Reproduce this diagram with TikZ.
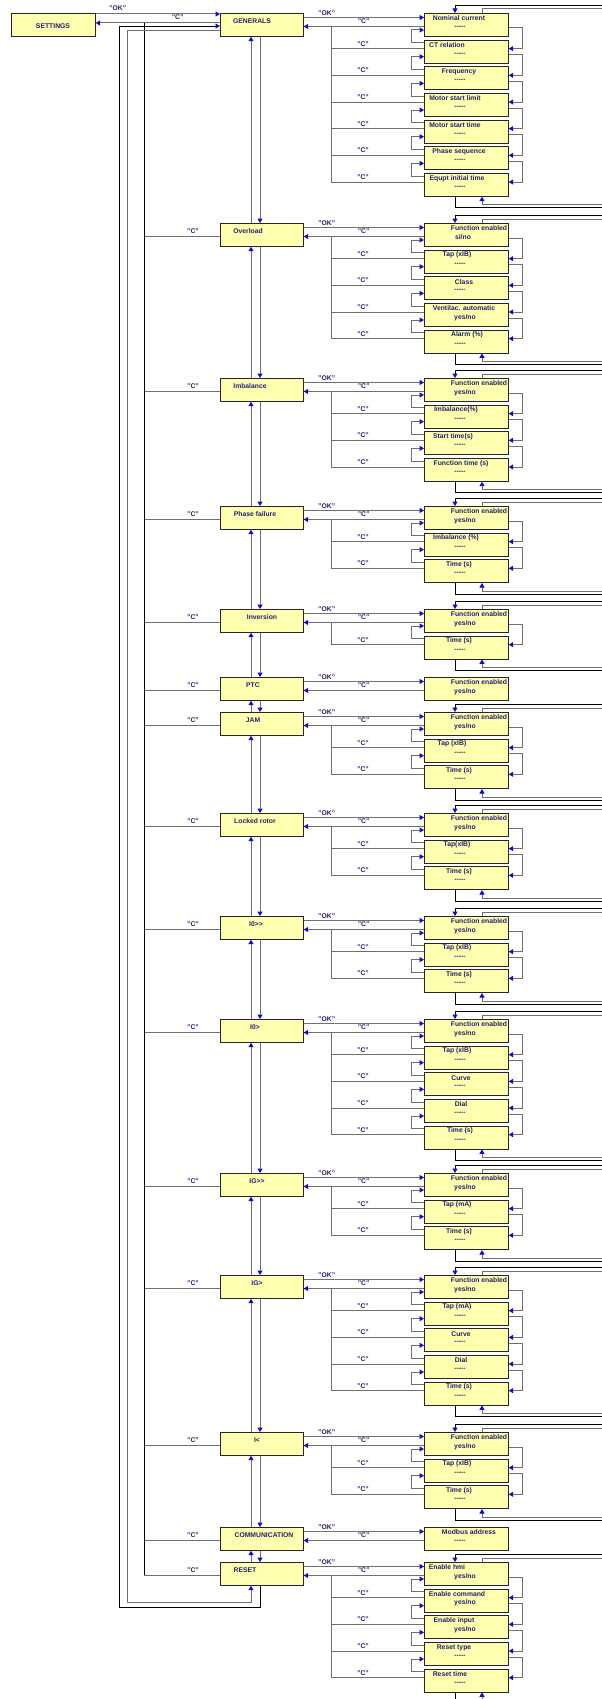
\documentclass[tikz,border=0pt]{standalone}
\usepackage{fontspec}
\setmainfont{Liberation Sans}
\usetikzlibrary{arrows.meta,calc}

\definecolor{boxfill}{RGB}{255,255,176}
\definecolor{navy}{RGB}{36,32,112}
\definecolor{wiregrey}{RGB}{112,112,112}
\definecolor{tipblue}{RGB}{10,10,225}

\protected\def\yn{yes/no}
\protected\def\sn{si/no}
\protected\def\dashes{-\kern0pt-\kern0pt-\kern0pt-\kern0pt-}
\protected\def\gtgt{>\kern0pt>}

\tikzset{
  menubox/.style={draw=black!85, line width=0.7pt, fill=boxfill, minimum width=83pt,
    minimum height=23pt, inner sep=0pt, anchor=north west},
  subbox/.style={menubox, minimum width=84pt},
  boxtxt/.style={font=\fontsize{6.8}{8}\selectfont\bfseries, text=navy, inner sep=0pt},
  lbl/.style={boxtxt},
  gl/.style={draw=wiregrey, line width=1pt},
  bl/.style={draw=black, line width=0.8pt},
  arr/.style={-{Triangle[length=4.5pt,width=5pt,color=tipblue]}},
}

% a menu entry of the main column
\newcommand\menu[4]{%
  \node[menubox] (m#1) at (220,#2) {};
  \node[boxtxt] at ($(m#1.north west)+(#4,8.5)$) {#3};
}

% the parameter boxes of one menu: title/title offset/value/value offset
\newcommand\subitems[3]{%
  \foreach \ti/\dx/\se/\sx [count=\k] in {#3} {
    \node[subbox] (s#1-\k) at (424,{#2+(\k-1)*26.67}) {};
    \node[boxtxt] at ($(s#1-\k.north west)+(\dx,5.5)$) {\ti};
    \node[boxtxt] at ($(s#1-\k.north west)+(\sx,14.5)$) {\se};
  }
}

% OK / C links of one menu and the up/down navigation between its boxes
\newcommand\wires[2]{%
  \draw[gl,arr] ([yshift=-4.5pt]m#1.north east) -- ([yshift=-4.5pt]s#1-1.north west);
  \node[lbl] at ($(m#1.north east)+(23,0)$) {"OK"};
  \draw[gl,arr] ([yshift=-13.5pt]s#1-1.north west) -- ([yshift=-13.5pt]m#1.north east);
  \node[lbl] at ($(m#1.north east)+(60,8.5)$) {"C"};
  \ifnum#2>1
    \pgfmathtruncatemacro\nlast{#2-1}
    \foreach \i [evaluate=\i as \j using int(\i+1)] in {1,...,\nlast} {
      \draw[gl] ([yshift=-9pt]s#1-\j.north west) -| ([xshift=28pt,yshift=-13.5pt]m#1.north east);
      \node[lbl] at ($(s#1-\j.north west)+(-61,4)$) {"C"};
      \draw[gl,arr] ([yshift=-3pt]s#1-\j.north west) -- ++(-13,0) |- ([yshift=-17pt]s#1-\i.north west);
      \draw[gl,arr] ([yshift=-15pt]s#1-\i.north east) -- ++(14,0) |- ([yshift=-9pt]s#1-\j.north east);
    }
    \coordinate (et#1a) at ($(s#1-1.north west)+(178,-8)$);
    \coordinate (et#1b) at ($(s#1-1.north west)+(178,-4)$);
    \draw[bl,arr] (et#1a) -| ([xshift=31pt]s#1-1.north west);
    \draw[gl] ([xshift=58pt]s#1-1.north west) |- (et#1b);
    \coordinate (eb#1a) at ($(s#1-#2.south west)+(178,8)$);
    \coordinate (eb#1b) at ($(s#1-#2.south west)+(178,11)$);
    \draw[gl,arr] (eb#1a) -| ([xshift=58pt]s#1-#2.south west);
    \draw[bl] ([xshift=31pt]s#1-#2.south west) |- (eb#1b);
  \fi
}

% "C" from a menu entry back to the common return line
\newcommand\menuleft[1]{%
  \draw[gl] ([yshift=-13pt]m#1.north west) -- ++(-76,0);
  \node[lbl] at ($(m#1.north west)+(-27,8)$) {"C"};
}

\begin{document}
\begin{tikzpicture}[x=1pt,y=-1pt]
\useasboundingbox (0,0) rectangle (602,1699);
\fill[white] (0,0) rectangle (602,1699);

% settings
\node[menubox, minimum width=84pt] (set) at (11,13) {};
\node[boxtxt] at ($(set.north west)+(42,13)$) {SETTINGS};

% main column
\menu{1}{13}{GENERALS}{32}
\menu{2}{223}{Overload}{28}
\menu{3}{378}{Imbalance}{30}
\menu{4}{506}{Phase failure}{35}
\menu{5}{609}{Inversion}{42}
\menu{6}{677}{PTC}{33}
\menu{7}{712}{JAM}{33}
\menu{8}{813}{Locked rotor}{35}
\menu{9}{916}{I0\gtgt}{36}
\menu{10}{1019}{I0>}{35}
\menu{11}{1173}{IG\gtgt}{37}
\menu{12}{1275}{IG>}{37}
\menu{13}{1432}{I<}{37}
\menu{14}{1527}{COMMUNICATION}{44}
\menu{15}{1562}{RESET}{25}

% parameter boxes
\subitems{1}{13}{Nominal current/35/\dashes/36,CT relation/23/\dashes/36,Frequency/35/\dashes/36,Motor start limit/31/\dashes/36,Motor start time/31/\dashes/36,Phase sequence/35/\dashes/36,Equpt initial time/33/\dashes/36}
\subitems{2}{223}{Function enabled/55/\sn/39,Tap (xIB)/33/\dashes/36,Class/40/\dashes/36,Ventilac. automatic/40/\yn/41,Alarm (\%)/43/\dashes/36}
\subitems{3}{378}{Function enabled/55/\yn/41,Imbalance(\%)/32/\dashes/36,Start time(s)/29/\dashes/36,Function time (s)/37/\dashes/36}
\subitems{4}{506}{Function enabled/55/\yn/41,Imbalance (\%)/32/\dashes/36,Time (s)/35/\dashes/36}
\subitems{5}{609}{Function enabled/55/\yn/41,Time (s)/35/\dashes/36}
\subitems{6}{677}{Function enabled/55/\yn/41}
\subitems{7}{712}{Function enabled/55/\yn/41,Tap (xIB)/28/\dashes/36,Time (s)/35/\dashes/36}
\subitems{8}{813}{Function enabled/55/\yn/41,Tap(xIB)/33/\dashes/36,Time (s)/35/\dashes/36}
\subitems{9}{916}{Function enabled/55/\yn/41,Tap (xIB)/33/\dashes/36,Time (s)/35/\dashes/36}
\subitems{10}{1019}{Function enabled/55/\yn/41,Tap (xIB)/33/\dashes/36,Curve/37/\dashes/36,Dial/37/\dashes/36,Time (s)/36/\dashes/36}
\subitems{11}{1173}{Function enabled/55/\yn/41,Tap (mA)/33/\dashes/36,Time (s)/35/\dashes/36}
\subitems{12}{1275}{Function enabled/55/\yn/41,Tap (mA)/33/\dashes/36,Curve/37/\dashes/36,Dial/37/\dashes/36,Time (s)/35/\dashes/36}
\subitems{13}{1432}{Function enabled/55/\yn/41,Tap (xIB)/33/\dashes/36,Time (s)/35/\dashes/36}
\subitems{14}{1527}{Modbus address/45/\dashes/36}
\subitems{15}{1562}{Enable hmi/23/\yn/41,Enable command/33/\yn/41,Enable input/30/\yn/41,Reset type/30/\dashes/36,Reset time/26/\dashes/36}

% links of each menu
\wires{1}{7}
\wires{2}{5}
\wires{3}{4}
\wires{4}{3}
\wires{5}{2}
\wires{6}{1}
\wires{7}{3}
\wires{8}{3}
\wires{9}{3}
\wires{10}{5}
\wires{11}{3}
\wires{12}{5}
\wires{13}{3}
\wires{14}{1}
\wires{15}{5}

\foreach \g in {2,...,15} {\menuleft{\g}}

% up/down chain of the main column
\foreach \g [evaluate=\g as \h using int(\g+1)] in {1,...,14} {
  \draw[gl,arr] ([xshift=40pt]m\g.south west) -- ([xshift=40pt]m\h.north west);
  \draw[gl,arr] ([xshift=31pt]m\h.north west) -- ([xshift=31pt]m\g.south west);
}

% settings <-> generals
\draw[gl,arr] ([yshift=-1pt]set.north east) -- ([yshift=-1pt]m1.north west);
\node[lbl] at ($(set.north east)+(22,-5)$) {"OK"};
\draw[gl,arr] ([yshift=-10pt]m1.north west) -- ([yshift=-10pt]set.north east);
\node[lbl] at ($(set.north east)+(82,4.5)$) {"C"};
\coordinate (cb1) at ($(m1.north west)+(-76,10)$);
\coordinate (cb2) at ($(m15.north west)+(-76,13)$);
\draw[bl] (cb1) -- (cb2);

% wrap-around between the last and the first menu
\coordinate (wo) at (119,1607);
\coordinate (wi) at (127,1602);
\draw[bl,arr] ([xshift=40pt]m15.south west) |- (wo) |- ([yshift=-13pt]m1.north west);
\draw[gl,arr] ([yshift=-18pt]m1.north west) -| (wi) -| ([xshift=31pt]m15.south west);
\end{tikzpicture}
\end{document}
